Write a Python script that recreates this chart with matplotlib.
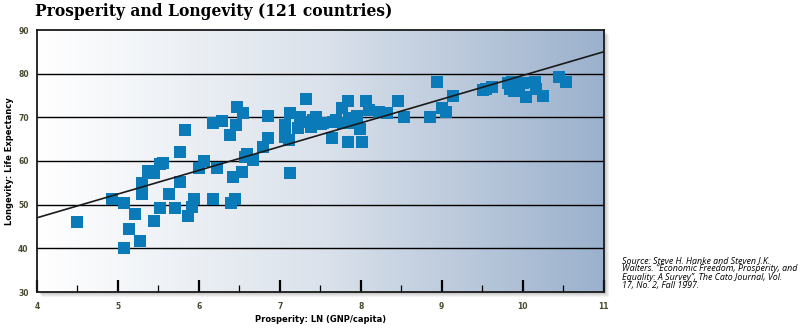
import numpy as np
import matplotlib
matplotlib.use("Agg")
import matplotlib.pyplot as plt
from matplotlib.colors import LinearSegmentedColormap
from matplotlib.patches import Rectangle

# prosperity: ln(GNP/capita), longevity: life expectancy (years)
prosperity = [
    4.49, 4.93, 5.07, 5.21, 5.14, 5.27, 5.07, 5.30, 5.30, 5.37,
    5.44, 5.44, 5.52, 5.52, 5.56, 5.63, 5.70, 5.77, 5.77, 5.83,
    5.86, 5.92, 5.94, 6.00, 6.06, 6.22, 6.18, 6.18, 6.28, 6.39,
    6.46, 6.47, 6.54, 6.42, 6.53, 6.40, 6.45, 6.59, 6.57, 6.67,
    6.79, 6.86, 6.86, 7.06, 7.12, 7.07, 7.13, 7.13, 7.25, 7.22,
    7.33, 7.41, 7.39, 7.51, 7.66, 7.65, 7.77, 7.84, 7.78, 7.86,
    7.84, 7.95, 7.99, 8.01, 8.07, 8.10, 8.22, 8.33, 8.46, 8.54,
    8.85, 8.94, 9.14, 9.01, 9.05, 9.51, 9.55, 9.62, 9.82, 9.87,
    9.84, 9.90, 9.96, 10.00, 10.04, 10.15, 10.16, 10.25, 10.45, 10.54,
    7.93, 7.53, 7.69, 7.30, 7.45,
]
longevity = [
    46.0, 51.3, 50.3, 47.9, 44.4, 41.7, 40.1, 54.9, 52.4, 57.8,
    57.3, 46.3, 49.3, 59.3, 59.5, 52.4, 49.3, 55.3, 62.1, 67.1,
    47.4, 49.5, 51.2, 58.3, 60.0, 58.3, 51.4, 68.6, 69.2, 65.9,
    68.2, 72.4, 71.1, 56.4, 57.5, 50.3, 51.4, 61.7, 61.0, 60.2,
    63.2, 65.2, 70.3, 65.4, 64.8, 68.2, 57.3, 71.1, 70.0, 67.5,
    74.2, 69.4, 67.9, 68.4, 69.0, 65.3, 72.2, 73.7, 68.6, 69.8,
    64.4, 70.4, 67.3, 64.4, 73.7, 71.6, 71.3, 70.9, 73.7, 70.0,
    70.0, 78.0, 75.0, 72.2, 71.3, 76.3, 76.6, 77.0, 77.8, 78.2,
    76.5, 76.0, 76.3, 77.8, 74.7, 78.2, 76.5, 75.0, 79.3, 78.0,
    68.6, 68.6, 69.4, 69.0, 70.0,
]

# fitted trend line end points
trend_x = [4.0, 11.0]
trend_y = [47.0, 85.0]

x_ticks = [4, 5, 6, 7, 8, 9, 10, 11]
x_minor = [4.5, 5.5, 6.5, 7.5, 8.5, 9.5, 10.5]
y_ticks = [30, 40, 50, 60, 70, 80, 90]
grid_y = [40, 50, 60, 70, 80]

title = "Prosperity and Longevity (121 countries)"
source = ("Source: Steve H. Hanke and Steven J.K.\n"
          "Walters. \u201cEconomic Freedom, Prosperity, and\n"
          "Equality: A Survey\u201d, The Cato Journal, Vol.\n"
          "17, No. 2, Fall 1997.")

fig = plt.figure(figsize=(8.05, 3.29), dpi=100)
W, H = 805.0, 329.0
left, right, bottom, top = 37 / W, 603.5 / W, (H - 292) / H, (H - 30) / H
ax = fig.add_axes([left, bottom, right - left, top - bottom])
ax.set_zorder(2)

# soft drop shadow right/below the plot box
for i, a in enumerate([0.10, 0.10, 0.12, 0.14]):
    off = (5 - i) / W
    offy = (5 - i) / H
    fig.patches.append(Rectangle((left + off, bottom - offy), right - left, top - bottom,
                                 transform=fig.transFigure, facecolor="#808080",
                                 edgecolor="none", alpha=a, zorder=-1))

bg = LinearSegmentedColormap.from_list("bg", ["#ffffff", "#dbe2eb", "#9bb1cd"])
ax.imshow(np.linspace(0, 1, 256).reshape(1, -1), cmap=bg, aspect="auto",
          extent=[x_ticks[0], x_ticks[-1], y_ticks[0], y_ticks[-1]], zorder=0)

for g in grid_y:
    ax.axhline(g, color="black", lw=1.0, zorder=1)

ax.scatter(prosperity, longevity, marker="s", s=72, color="#0a7bb8",
           linewidths=0, zorder=3)
ax.plot(trend_x, trend_y, color="#1a1a1a", lw=1.2, zorder=4)

ax.set_xlim(x_ticks[0], x_ticks[-1])
ax.set_ylim(y_ticks[0], y_ticks[-1])
ax.set_xticks(x_ticks)
ax.set_xticks(x_minor, minor=True)
ax.set_yticks(y_ticks)
ax.tick_params(axis="x", which="major", direction="in", length=8.5, width=1.6,
               color="black", labelsize=5.5, labelcolor="#4a4a32", pad=7)
ax.tick_params(axis="x", which="minor", direction="in", length=5, width=0.9,
               color="black")
ax.tick_params(axis="y", length=0, labelsize=5.5, labelcolor="#4a4a32", pad=6)
for lab in ax.get_xticklabels() + ax.get_yticklabels():
    lab.set_fontweight("bold")

for sp in ax.spines.values():
    sp.set_linewidth(1.3)
    sp.set_color("#1a1a1a")
    sp.set_zorder(5)

ax.set_xlabel("Prosperity: LN (GNP/capita)", fontsize=6, fontweight="bold",
              labelpad=3)
ax.set_ylabel("Longevity: Life Expectancy", fontsize=6, fontweight="bold",
              labelpad=3)

fig.text(35 / W, 1 - 3 / H, title, fontsize=11.2, fontweight="bold",
         family="DejaVu Serif", va="top", ha="left")
fig.text(622 / W, 1 - 256 / H, source, fontsize=6.4, style="italic",
         family="Open Sans", va="top", ha="left", linespacing=0.92)

fig.savefig("out.png", dpi=100)
